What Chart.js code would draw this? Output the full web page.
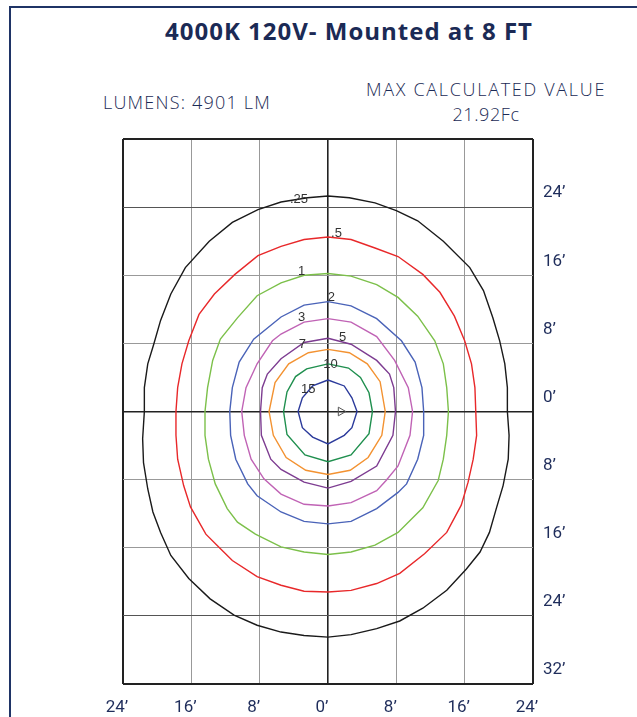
<!DOCTYPE html>
<html>
<head>
<meta charset="utf-8">
<script src="https://cdn.jsdelivr.net/npm/chart.js@4/dist/chart.umd.min.js"></script>
<style>
  html, body { margin: 0; padding: 0; background: #fff; }
  body { width: 637px; height: 717px; position: relative; overflow: hidden; }
  #frame { position: absolute; left: 9px; top: 6px; width: 700px; height: 800px; border: 2px solid #1f3466; box-sizing: border-box; }
  .txt { position: absolute; color: #1b2a55; white-space: nowrap; text-align: center; }
  #title { left: 99px; width: 500px; top: 14px; line-height: 32px; font: bold 24px "Open Sans", sans-serif; letter-spacing: 1px; }
  #lumens { left: 103px; top: 90px; line-height: 22px; font: 300 18px "Open Sans", sans-serif; letter-spacing: 1.2px; text-align: left; }
  #maxval { left: 336px; width: 300px; top: 77px; line-height: 22px; font: 300 18px "Open Sans", sans-serif; letter-spacing: 1.7px; }
  #maxnum { left: 336px; width: 300px; top: 102px; line-height: 22px; font: 300 18px "Open Sans", sans-serif; letter-spacing: 0.6px; }
  canvas { position: absolute; left: 0; top: 0; }
</style>
</head>
<body>
<div id="frame"></div>
<div id="title" class="txt">4000K 120V- Mounted at 8 FT</div>
<div id="lumens" class="txt">LUMENS: 4901 LM</div>
<div id="maxval" class="txt">MAX CALCULATED VALUE</div>
<div id="maxnum" class="txt">21.92Fc</div>
<canvas id="isoChart" width="637" height="717"></canvas>
<script>
// Niveles de las isolineas (fc)
const levels = ['.25', '.5', '1', '2', '3', '5', '7', '10', '15'];

// Puntos de cada isolinea en pies [x, y]
const iso025 = [[0,25.3],[2.5,25.1],[5.5,24.5],[8.0,23.6],[10.5,22.4],[13.5,20.0],[16.6,16.9],[18.2,14.2],[19.3,11.0],[20.1,8.3],[20.7,5.6],[21.0,2.8],[21.0,0],[21.2,-2.8],[21.1,-5.6],[20.5,-8.7],[19.7,-11.4],[18.9,-14.2],[17.8,-16.5],[16.2,-18.5],[13.9,-21.0],[11.1,-23.1],[8.4,-24.6],[5.7,-25.5],[2.7,-26.2],[0,-26.5],[-2.8,-26.3],[-5.5,-25.9],[-8.3,-25.1],[-11.0,-23.9],[-13.8,-22.0],[-16.3,-19.6],[-18.4,-16.9],[-19.6,-14.2],[-20.5,-11.8],[-21.1,-9.1],[-21.6,-6.0],[-21.7,-3.2],[-21.5,0],[-21.5,2.8],[-21.1,5.6],[-20.4,7.9],[-19.6,10.7],[-18.4,13.8],[-16.7,16.9],[-13.9,20.0],[-11.2,22.2],[-8.2,23.7],[-5.5,24.6],[-2.4,25.1],[0,25.3]];
const iso05 = [[0,20.5],[2.7,20.2],[5.5,19.2],[8.2,18.2],[11.1,16.1],[13.1,14.0],[14.8,11.2],[16.0,8.3],[16.8,5.6],[17.2,2.8],[17.3,0],[17.4,-2.8],[17.0,-5.6],[16.4,-8.3],[15.6,-11.0],[13.9,-14.2],[11.3,-16.7],[8.4,-19.0],[5.7,-20.2],[2.7,-21.0],[0,-21.2],[-2.8,-21.1],[-5.5,-20.4],[-8.3,-19.4],[-11.2,-17.5],[-13.0,-15.7],[-14.3,-14.4],[-16.1,-11.2],[-16.9,-8.7],[-17.6,-5.6],[-17.8,-2.8],[-17.8,0],[-17.6,2.8],[-17.1,5.6],[-16.3,8.3],[-15.1,11.4],[-13.3,13.8],[-10.9,16.1],[-8.2,18.3],[-5.5,19.4],[-2.8,20.2],[0,20.5]];
const iso1 = [[0,16.2],[2.7,15.9],[5.7,14.9],[8.2,13.4],[10.5,11.2],[12.5,8.3],[13.5,5.6],[13.9,2.8],[14.1,0],[13.9,-2.8],[13.5,-5.6],[12.9,-8.1],[11.1,-11.3],[8.2,-14.2],[5.5,-15.7],[2.7,-16.5],[0,-16.8],[-2.8,-16.5],[-5.5,-15.9],[-8.5,-14.4],[-10.6,-13.0],[-11.8,-11.4],[-13.2,-8.5],[-14.0,-5.6],[-14.4,-2.8],[-14.4,0],[-14.1,2.8],[-13.5,6.0],[-12.6,8.5],[-10.6,11.0],[-8.3,13.6],[-5.5,15.1],[-2.8,16.0],[0,16.2]];
const iso2 = [[0,12.9],[2.7,12.4],[5.7,10.9],[8.6,8.3],[10.2,5.8],[11.0,2.8],[11.2,0],[11.2,-2.8],[10.5,-5.6],[9.2,-8.5],[8.2,-9.5],[5.7,-11.4],[2.7,-12.9],[0,-13.2],[-2.8,-12.9],[-5.5,-11.8],[-8.3,-9.9],[-9.4,-8.5],[-10.8,-5.6],[-11.4,-2.8],[-11.5,0],[-11.2,2.8],[-10.4,5.8],[-8.7,8.5],[-5.5,11.1],[-2.8,12.5],[0,12.9]];
const iso3 = [[0,10.9],[2.7,10.5],[5.7,8.8],[7.8,6.0],[9.4,2.8],[9.9,0],[9.6,-2.8],[8.2,-6.4],[6.8,-8.1],[5.7,-9.3],[2.7,-10.7],[0,-11.1],[-2.8,-10.9],[-5.5,-9.7],[-7.5,-7.9],[-9.0,-5.6],[-9.8,-2.8],[-10.1,0],[-9.6,2.8],[-8.3,5.6],[-6.5,8.3],[-5.5,9.1],[-2.8,10.5],[0,10.9]];
const iso5 = [[0,8.6],[2.7,7.9],[5.7,6.0],[7.2,4.4],[7.7,2.8],[7.9,0],[7.6,-2.8],[5.7,-6.4],[2.7,-8.2],[0,-9.0],[-2.8,-8.3],[-5.5,-6.8],[-6.7,-5.6],[-7.8,-2.8],[-7.9,0],[-7.7,2.8],[-7.1,4.4],[-5.5,6.2],[-2.8,8.1],[0,8.6]];
const iso7 = [[0,7.3],[2.5,6.9],[4.6,5.6],[6.1,3.5],[6.7,0],[6.3,-2.8],[4.7,-5.4],[2.6,-6.9],[0,-7.4],[-2.6,-6.9],[-4.9,-5.4],[-6.4,-2.8],[-6.9,0],[-6.2,3.4],[-4.6,5.6],[-2.3,6.9],[0,7.3]];
const iso10 = [[0,5.6],[2.4,5.1],[3.8,4.0],[4.8,2.2],[5.2,0],[4.8,-2.6],[2.7,-5.1],[0,-5.9],[-2.7,-5.1],[-4.8,-2.7],[-5.2,0],[-4.8,2.3],[-3.8,4.1],[-2.5,5.0],[0,5.6]];
const iso15 = [[0,3.7],[1.9,3.0],[2.8,1.6],[3.4,0],[2.8,-1.9],[1.9,-2.8],[0,-3.8],[-1.8,-3.0],[-3.0,-1.9],[-3.5,0],[-3.0,1.6],[-1.8,3.0],[0,3.7]];

// Posicion de las etiquetas de cada nivel (pies)
const labelX = [-3.4, 1.0, -3.1, 0.4, -3.1, 1.7, -3.0, 0.3, -2.3];
const labelY = [24.9, 20.9, 16.4, 13.4, 11.0, 8.7, 7.9, 5.5, 2.6];

// Posicion de la luminaria
const fixturePoint = [[1.5, 0]];

// Ticks de los ejes
const xTicks = [-24, -16, -8, 0, 8, 16, 24];
const yTicks = [-32, -24, -16, -8, 0, 8, 16, 24, 32];

const isoSeries = [iso025, iso05, iso1, iso2, iso3, iso5, iso7, iso10, iso15];
const isoColors = ['#1a1a1a', '#e8282a', '#7cc04a', '#4a63b8', '#c063b5', '#7d3c91', '#f39231', '#1f8f4e', '#2b3a9b'];

function initIsoChart() {
    const ctx = document.getElementById('isoChart').getContext('2d');

    const datasets = isoSeries.map((pts, i) => ({
        label: levels[i],
        data: pts,
        showLine: true,
        borderColor: isoColors[i],
        borderWidth: 1.4,
        pointRadius: 0,
        tension: 0,
        fill: false
    }));

    datasets.push({
        label: 'luminaria',
        data: fixturePoint,
        showLine: false,
        pointStyle: 'triangle',
        rotation: 90,
        pointRadius: 5,
        borderColor: '#555',
        backgroundColor: 'rgba(0,0,0,0)',
        borderWidth: 1
    });

    // Etiquetas sobre las isolineas
    const isoLabels = {
        id: 'isoLabels',
        afterDatasetsDraw(chart) {
            const c = chart.ctx;
            const sx = chart.scales.x, sy = chart.scales.y;
            c.save();
            c.font = '13px "Liberation Sans", Arial, sans-serif';
            c.fillStyle = '#333';
            c.textAlign = 'center';
            c.textBaseline = 'middle';
            levels.forEach((lv, i) => {
                c.fillText(lv, sx.getPixelForValue(labelX[i]), sy.getPixelForValue(labelY[i]));
            });
            c.restore();
        }
    };

    const gridColor = (edge, dark) => (context) => {
        const v = context.tick.value;
        if (Math.abs(v) === edge || v === 0) return '#222';
        if (dark.includes(v)) return '#555';
        return '#999';
    };
    const gridWidth = (edge) => (context) => {
        const v = context.tick.value;
        if (Math.abs(v) === edge) return 2;
        if (v === 0) return 1.6;
        return 1;
    };

    new Chart(ctx, {
        type: 'scatter',
        data: { datasets: datasets },
        options: {
            responsive: false,
            animation: false,
            devicePixelRatio: 1,
            layout: { padding: { left: 123, top: 139, right: 0, bottom: 0 } },
            plugins: { legend: { display: false }, tooltip: { enabled: false } },
            scales: {
                x: {
                    type: 'linear',
                    min: -24, max: 24,
                    afterBuildTicks: (s) => { s.ticks = xTicks.map(v => ({ value: v })); },
                    afterFit: (s) => { s.height = 33; },
                    grid: { color: gridColor(24, []), lineWidth: gridWidth(24), drawTicks: false },
                    border: { display: false },
                    ticks: {
                        padding: 14,
                        labelOffset: -6,
                        color: '#1f2d5b',
                        font: { family: 'Roboto', size: 17 },
                        callback: (v) => Math.abs(v) + '\u2019'
                    }
                },
                y: {
                    type: 'linear',
                    position: 'right',
                    min: -32, max: 32,
                    afterBuildTicks: (s) => { s.ticks = yTicks.map(v => ({ value: v })); },
                    afterFit: (s) => { s.width = 104; },
                    grid: { color: gridColor(32, [24, -24]), lineWidth: gridWidth(32), drawTicks: false },
                    border: { display: false },
                    ticks: {
                        padding: 10,
                        labelOffset: -14,
                        color: '#1f2d5b',
                        font: { family: 'Roboto', size: 17 },
                        callback: (v) => v === 32 ? '' : Math.abs(v) + '\u2019'
                    }
                }
            }
        },
        plugins: [isoLabels]
    });
}

if (document.readyState === 'loading') {
    document.addEventListener('DOMContentLoaded', initIsoChart);
} else {
    initIsoChart();
}
</script>
</body>
</html>
